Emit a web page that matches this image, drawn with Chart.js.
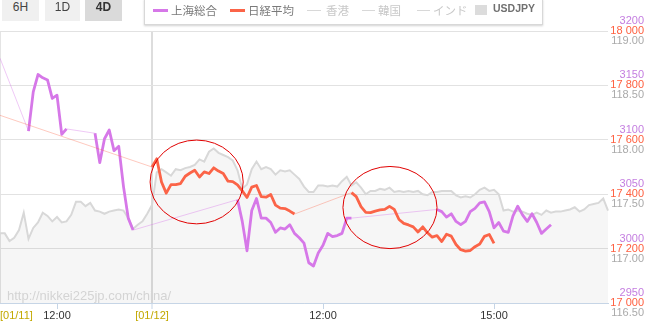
<!DOCTYPE html>
<html>
<head>
<meta charset="utf-8">
<script src="https://cdn.jsdelivr.net/npm/chart.js@4/dist/chart.umd.min.js"></script>
<style>
  html, body { margin: 0; padding: 0; background: #fff; }
  #wrap { position: relative; width: 650px; height: 323px; overflow: hidden; }
  #chart { position: absolute; left: 0; top: 0; }
  .btn { position: absolute; top: 0; height: 21px; line-height: 21px; font: 12px "Liberation Sans", sans-serif; color: #444; text-align: center; background: #f0f0f0; }
  .btn.on { background: #dadada; font-weight: bold; color: #333; }
  #legend { position: absolute; left: 144px; top: -1px; width: 397px; height: 24px; background: #fff; border: 1px solid #d8d8d8; box-shadow: 0 1px 2px rgba(0,0,0,0.18); }
  .sw { position: absolute; height: 3px; top: 9px; }
  .lt { position: absolute; top: 2px; line-height: 16px; font: 11.5px "Noto Sans CJK JP", sans-serif; color: #7a7a7a; }
  .off { color: #c8c8c8; }
</style>
</head>
<body>
<div id="wrap">
  <canvas id="chart" width="650" height="323"></canvas>
  <div class="btn" style="left:2px;width:37px;">6H</div>
  <div class="btn" style="left:45px;width:35px;">1D</div>
  <div class="btn on" style="left:85px;width:37px;">4D</div>
  <div id="legend"></div>
  <div class="sw" style="left:153px;width:15px;background:#d678e8;"></div>
  <div class="lt" style="left:171px;">上海総合</div>
  <div class="sw" style="left:230px;width:15px;background:#fb6448;"></div>
  <div class="lt" style="left:248px;">日経平均</div>
  <div class="sw" style="left:307px;width:14px;height:1px;top:10px;background:#d8d8d8;"></div>
  <div class="lt off" style="left:326px;">香港</div>
  <div class="sw" style="left:362px;width:13px;height:1px;top:10px;background:#d8d8d8;"></div>
  <div class="lt off" style="left:378px;">韓国</div>
  <div class="sw" style="left:417px;width:13px;height:1px;top:10px;background:#d8d8d8;"></div>
  <div class="lt off" style="left:433px;">インド</div>
  <div class="sw" style="left:475px;width:12px;height:10px;top:5px;background:#dcdcdc;"></div>
  <div class="lt" style="left:493px;font:bold 10.5px 'Liberation Sans',sans-serif;top:2px;color:#707070;">USDJPY</div>
</div>
<script>
// 01/11 is shown compressed (15 min steps), 01/12 in 5 min steps
function buildLabels() {
    const out = [];
    for (let m = 9 * 60; m < 17 * 60; m += 15) out.push("01/11 " + hhmm(m));
    for (let m = 9 * 60; m <= 17 * 60; m += 5) out.push("01/12 " + hhmm(m));
    return out;
}
function hhmm(m) {
    return String(Math.floor(m / 60)).padStart(2, "0") + ":" + String(m % 60).padStart(2, "0");
}
const labels = buildLabels();

const tickAt = ["01/11 09:00", "01/11 12:00", "01/12 09:00", "01/12 12:00", "01/12 15:00"];
const tickText = ["[01/11]", "12:00", "[01/12]", "12:00", "15:00"];

const shanghaiTicks = [2950, 3000, 3050, 3100, 3150, 3200];
const usdjpyTicks = [116.5, 117, 117.5, 118, 118.5, 119];

const shanghai = [
    3175, null, null, null, null, null,
    3108, 3144, 3160, 3157, 3155, 3138, 3141, 3105, 3110,
    null, null, null, null, null,
    3106, 3079, 3101, 3109, 3090, 3094, 3057, 3028, 3017,
    null, null, null, null, null, null, null, null, null, null, null,
    null, null, null, null, null, null, null, null, null, null,
    3045, 3025, 2998, 3035, 3046, 3028, 3028, 3024, 3015, 3019, 3018, 3022, 3014,
    3010, 3005, 2987, 2984, 2996, 3003, 3014, 3011, 3012, 3014, 3028, 3028,
    null, null, null, null, null, null, null, null, null, null,
    null, null, null, null, null, null, null,
    3036, 3034, 3029, 3032, 3025, 3022, 3025, 3034, 3037, 3042, 3043, 3034, 3019,
    3024, 3016, 3015, 3030, 3039, 3031, 3025, 3032, 3024, 3014, 3018, 3022,
    null, null, null, null, null, null, null, null, null, null, null, null
];

const nikkei = [
    17690,
    null, null, null, null, null, null, null, null, null, null,
    null, null, null, null, null, null, null, null, null, null,
    null, null, null, null, null, null, null, null, null, null, null,
    17500, 17530, 17445, 17404, 17435, 17435, 17439, 17466, 17478, 17488, 17463,
    17482, 17476, 17497, 17485, 17476, 17448, 17446, 17434, 17412, 17388, 17426,
    17432, 17391, 17389, 17399, 17360, 17349, 17347, 17338, 17327,
    null, null, null, null, null, null, null, null, null, null, null,
    17406, 17391, 17354, 17333, 17332, 17338, 17342, 17344, 17355, 17344, 17307,
    17293, 17287, 17280, 17261, 17280, 17258, 17242, 17248, 17226, 17253, 17246,
    17215, 17196, 17191, 17193, 17207, 17217, 17245, 17252, 17219,
    null, null, null, null, null, null, null, null, null, null, null, null,
    null, null, null, null, null, null, null, null, null, null, null, null
];

const usdjpy = [
    117.14, 117.14, 117.07, 117.10, 117.17, 117.33, 117.09, 117.19, 117.24, 117.33, 117.30,
    117.25, 117.29, 117.24, 117.25, 117.31, 117.43, 117.43, 117.39, 117.42, 117.35, 117.34,
    117.32, 117.34, 117.35, 117.36, 117.35, 117.28, 117.18, 117.22, 117.25, 117.32,
    117.40, 117.70, 117.73, 117.70, 117.67, 117.73, 117.72, 117.74, 117.75, 117.77, 117.82,
    117.80, 117.89, 117.92, 117.88, 117.86, 117.84, 117.81, 117.72, 117.55, 117.59, 117.73,
    117.80, 117.73, 117.75, 117.73, 117.68, 117.72, 117.71, 117.72, 117.68, 117.64,
    117.57, 117.52, 117.52, 117.58, 117.58, 117.57, 117.58, 117.57, 117.62, 117.66, 117.58,
    117.61, 117.56, 117.50, 117.53, 117.53, 117.55, 117.54, 117.56, 117.52, 117.53, 117.52,
    117.53, 117.52, 117.53, 117.50, 117.49, 117.52, 117.52, 117.53, 117.53, 117.53,
    117.49, 117.47, 117.48, 117.47, 117.50, 117.54, 117.56, 117.53, 117.54, 117.50, 117.35,
    117.36, 117.34, 117.35, 117.34, 117.32, 117.31, 117.33, 117.31, 117.35, 117.33, 117.34,
    117.34, 117.35, 117.36, 117.38, 117.34, 117.36, 117.40, 117.41, 117.42, 117.46, 117.35
];

// hand-drawn circles on the picture, in label index / nikkei units
const circleCenterX = [41.4, 82.1];
const circleCenterY = [17445, 17351];
const circleHalfX = [9.8, 9.9];
const circleHalfY = [154, 151];

const SH_COLOR = "#d678e8";
const NK_COLOR = "#fb6448";
const FX_COLOR = "#d8d8d8";
const DATE_COLOR = "#c2a800";

const skipped = (ctx, value) => (ctx.p0.skip || ctx.p1.skip) ? value : undefined;

function spaced(v) {
    return String(Math.round(v)).replace(/\B(?=(\d{3})+(?!\d))/g, " ");
}

const sideLabels = {
    id: "sideLabels",
    afterDraw(chart) {
        const ctx = chart.ctx;
        const nk = chart.scales.yNk, sh = chart.scales.ySh, fx = chart.scales.yFx;
        ctx.save();
        ctx.font = '11px "Liberation Sans"';
        ctx.textAlign = "right";
        ctx.textBaseline = "middle";
        ctx.fillStyle = "#c47ee0";
        shanghaiTicks.forEach(v => ctx.fillText(String(v), nk.right, sh.getPixelForValue(v) - 10));
        ctx.fillStyle = "#aaaaaa";
        usdjpyTicks.forEach(v => ctx.fillText(v.toFixed(2), nk.right, fx.getPixelForValue(v) + 10));
        ctx.restore();
    }
};

const watermark = {
    id: "watermark",
    beforeDraw(chart) {
        const ctx = chart.ctx;
        ctx.save();
        ctx.font = '13px "Liberation Sans"';
        ctx.fillStyle = "#dcdcdc";
        ctx.textBaseline = "middle";
        ctx.fillText("http://nikkei225jp.com/china/", 7, 296);
        ctx.restore();
    }
};

const circles = {
    id: "circles",
    afterDatasetsDraw(chart) {
        const ctx = chart.ctx;
        const x = chart.scales.x, y = chart.scales.yNk;
        ctx.save();
        ctx.strokeStyle = "#e00000";
        ctx.lineWidth = 1;
        for (let i = 0; i < circleCenterX.length; i++) {
            const cx = x.getPixelForValue(circleCenterX[i]);
            const cy = y.getPixelForValue(circleCenterY[i]);
            const rx = Math.abs(x.getPixelForValue(circleCenterX[i] + circleHalfX[i]) - cx);
            const ry = Math.abs(y.getPixelForValue(circleCenterY[i] + circleHalfY[i]) - cy);
            ctx.beginPath();
            ctx.ellipse(cx, cy, rx, ry, 0, 0, Math.PI * 2);
            ctx.stroke();
        }
        ctx.restore();
    }
};

new Chart(document.getElementById("chart"), {
    type: "line",
    data: {
        labels: labels,
        datasets: [
            {
                label: "日経平均",
                data: nikkei,
                yAxisID: "yNk",
                borderColor: NK_COLOR,
                borderWidth: 2.8,
                pointRadius: 0,
                tension: 0,
                spanGaps: true,
                borderJoinStyle: "round",
                segment: {
                    borderColor: ctx => skipped(ctx, "rgba(251,100,72,0.35)"),
                    borderWidth: ctx => skipped(ctx, 1)
                },
                order: 1
            },
            {
                label: "上海総合",
                data: shanghai,
                yAxisID: "ySh",
                borderColor: SH_COLOR,
                borderWidth: 2.8,
                pointRadius: 0,
                tension: 0,
                spanGaps: true,
                borderJoinStyle: "round",
                segment: {
                    borderColor: ctx => skipped(ctx, "rgba(214,120,232,0.4)"),
                    borderWidth: ctx => skipped(ctx, 1)
                },
                order: 2
            },
            {
                label: "USDJPY",
                data: usdjpy,
                yAxisID: "yFx",
                borderColor: FX_COLOR,
                borderWidth: 2,
                pointRadius: 0,
                tension: 0,
                fill: "start",
                backgroundColor: "rgba(0,0,0,0.035)",
                order: 3
            }
        ]
    },
    options: {
        responsive: false,
        animation: false,
        devicePixelRatio: 1,
        layout: { padding: { top: 31, right: 6, bottom: 0, left: 0 } },
        plugins: { legend: { display: false }, tooltip: { enabled: false } },
        scales: {
            x: {
                grid: {
                    color: ctx => ctx.index === 32 ? "#dddddd" : (ctx.index === 0 ? "#e4e4e4" : "transparent"),
                    lineWidth: ctx => ctx.index === 32 ? 2 : 1,
                    tickColor: ctx => (ctx.index > 0 && tickAt.includes(labels[ctx.index])) ? "#c6d5e6" : "transparent",
                    tickLength: 6,
                    tickWidth: 1
                },
                border: { color: "#c6d5e6", width: 1 },
                ticks: {
                    autoSkip: false,
                    maxRotation: 0,
                    align: "inner",
                    padding: 0,
                    font: { size: 11, family: "Liberation Sans" },
                    color: ctx => {
                        const p = tickAt.indexOf(labels[ctx.index]);
                        return p >= 0 && tickText[p].startsWith("[") ? DATE_COLOR : "#333333";
                    },
                    callback: (value, index) => {
                        const p = tickAt.indexOf(labels[index]);
                        return p >= 0 ? tickText[p] : "";
                    }
                },
                afterFit: s => { s.height = 20; }
            },
            yNk: {
                position: "right",
                min: 17000,
                max: 18000,
                grid: { color: "#e2e2e2", drawTicks: false },
                border: { display: false },
                ticks: {
                    stepSize: 200,
                    crossAlign: "far",
                    color: "#ff6040",
                    font: { size: 11, family: "Liberation Sans" },
                    callback: v => spaced(v)
                },
                afterFit: s => { s.width = 36; }
            },
            ySh: { display: false, min: 2950, max: 3200 },
            yFx: { display: false, min: 116.5, max: 119 }
        }
    },
    plugins: [watermark, circles, sideLabels]
});
</script>
</body>
</html>
